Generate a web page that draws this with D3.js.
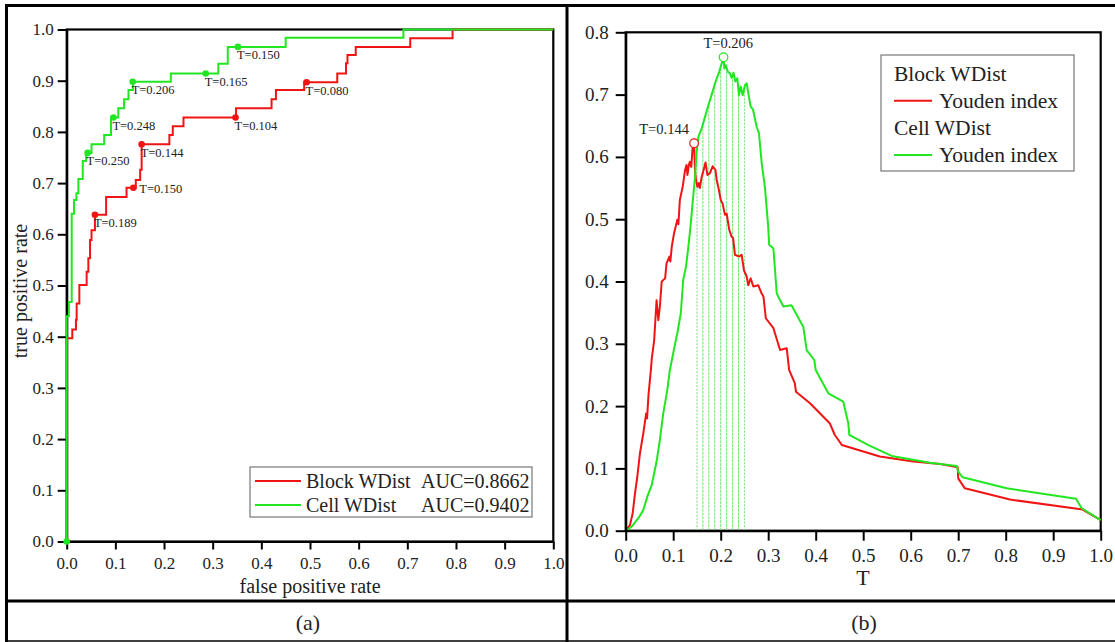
<!DOCTYPE html>
<html><head><meta charset="utf-8">
<script src="https://cdn.jsdelivr.net/npm/d3@7"></script>
<style>body{margin:0;background:#fff;}svg{display:block;font-family:"Liberation Serif","Times New Roman",serif;}</style>
</head><body>
<svg id="c" width="1115" height="642"></svg>
<script>
// ---------- data ----------
const ticks01 = [0,0.1,0.2,0.3,0.4,0.5,0.6,0.7,0.8,0.9,1.0];
const ticksYouden = [0,0.1,0.2,0.3,0.4,0.5,0.6,0.7,0.8];

// ROC (a): corners where each vertical jump ends
const rocBlockFpr = [0,0,0.0115,0.019,0.0205,0.026,0.041,0.0445,0.048,0.051,0.058,0.081,0.123,0.142,0.151,0.154,0.211,0.218,0.24,0.348,0.421,0.430,0.488,0.556,0.574,0.577,0.594,0.706,0.793,1.0];
const rocBlockTpr = [0,0.397,0.414,0.433,0.465,0.501,0.527,0.553,0.589,0.608,0.638,0.673,0.691,0.706,0.726,0.776,0.794,0.811,0.828,0.846,0.864,0.882,0.897,0.914,0.934,0.950,0.966,0.983,1.0,1.0];
const rocCellFpr = [0,0,0.0045,0.0103,0.0103,0.015,0.02,0.024,0.033,0.04,0.051,0.077,0.091,0.106,0.118,0.127,0.136,0.214,0.3116,0.331,0.45,0.692,1.0];
const rocCellTpr = [0,0.44,0.468,0.59,0.64,0.667,0.68,0.708,0.743,0.759,0.776,0.794,0.828,0.846,0.864,0.882,0.898,0.914,0.933,0.966,0.984,1.0,1.0];

const blockDotFpr = [0.058,0.137,0.154,0.347,0.493];
const blockDotTpr = [0.638,0.691,0.776,0.828,0.897];
const blockDotLabel = ["T=0.189","T=0.150","T=0.144","T=0.104","T=0.080"];
const cellDotFpr = [0,0.043,0.096,0.1356,0.2857,0.352];
const cellDotTpr = [0,0.759,0.828,0.898,0.914,0.966];
const cellDotLabel = ["","T=0.250","T=0.248","T=0.206","T=0.165","T=0.150"];

const legendA = ["Block WDist","Cell WDist"];
const aucA = ["AUC=0.8662","AUC=0.9402"];

// Youden index (b)
const youBlockT = [0,0.009,0.0147,0.0196,0.0245,0.030,0.037,0.043,0.045,0.048,0.053,0.055,0.060,0.063,0.065,0.0687,0.072,0.0758,0.083,0.086,0.092,0.094,0.097,0.1017,0.1087,0.111,0.114,0.12,0.125,0.128,0.13,0.133,0.135,0.138,0.141,0.144,0.146,0.148,0.151,0.154,0.156,0.16,0.163,0.168,0.172,0.1775,0.183,0.189,0.1915,0.196,0.2,0.204,0.209,0.2126,0.218,0.223,0.226,0.23,0.239,0.244,0.249,0.2547,0.258,0.263,0.2687,0.279,0.286,0.29,0.295,0.311,0.325,0.339,0.344,0.356,0.3585,0.388,0.43,0.44,0.455,0.535,0.6055,0.662,0.699,0.70,0.714,0.809,0.962,1.0];
const youBlockJ = [0,0.009,0.028,0.060,0.087,0.124,0.156,0.188,0.180,0.218,0.258,0.277,0.306,0.345,0.370,0.338,0.360,0.400,0.405,0.429,0.440,0.432,0.456,0.477,0.499,0.492,0.531,0.552,0.579,0.587,0.571,0.587,0.592,0.584,0.616,0.622,0.576,0.563,0.552,0.558,0.550,0.568,0.576,0.591,0.571,0.574,0.585,0.579,0.563,0.548,0.531,0.525,0.507,0.509,0.483,0.472,0.470,0.443,0.440,0.443,0.418,0.408,0.394,0.405,0.392,0.394,0.381,0.376,0.341,0.325,0.290,0.293,0.258,0.237,0.223,0.2045,0.172,0.154,0.1375,0.119,0.111,0.107,0.1017,0.084,0.068,0.050,0.034,0.017];
const youCellT = [0,0.0126,0.0266,0.037,0.0455,0.0547,0.065,0.072,0.079,0.0876,0.093,0.104,0.1087,0.116,0.121,0.127,0.132,0.137,0.142,0.146,0.149,0.153,0.156,0.16,0.165,0.174,0.181,0.188,0.197,0.202,0.206,0.2076,0.211,0.2147,0.2196,0.223,0.227,0.2307,0.235,0.2385,0.242,0.2463,0.251,0.2547,0.26,0.263,0.268,0.2758,0.2806,0.2863,0.293,0.30,0.302,0.311,0.318,0.321,0.332,0.349,0.374,0.381,0.397,0.40,0.4266,0.458,0.4687,0.4707,0.511,0.56,0.6406,0.697,0.70,0.7095,0.802,0.948,0.96,1.0];
const youCellJ = [0,0.0064,0.02,0.033,0.0546,0.073,0.111,0.146,0.188,0.226,0.258,0.30,0.317,0.349,0.402,0.424,0.456,0.493,0.536,0.568,0.606,0.632,0.638,0.646,0.659,0.683,0.70,0.718,0.737,0.750,0.760,0.742,0.747,0.737,0.734,0.727,0.735,0.721,0.726,0.699,0.713,0.699,0.715,0.718,0.694,0.681,0.676,0.648,0.638,0.590,0.552,0.488,0.459,0.453,0.381,0.376,0.36,0.362,0.327,0.29,0.274,0.258,0.2205,0.207,0.172,0.154,0.1375,0.12,0.109,0.104,0.0947,0.0857,0.068,0.0514,0.036,0.017];

const dropT = [0.15,0.1625,0.175,0.1875,0.2,0.2125,0.225,0.2375,0.25];
const dropJ = [0.616,0.655,0.685,0.718,0.748,0.744,0.730,0.706,0.715];

const peakT = [0.144,0.206];
const peakJ = [0.622,0.760];
const peakLabel = ["T=0.144","T=0.206"];
const legendB = ["Block WDist","Youden index","Cell WDist","Youden index"];

// ---------- drawing ----------
const RED = "#f01414", GREEN = "#22e622";
const svg = d3.select("#c");
const FONT = '"Liberation Serif","Times New Roman",serif';

// table borders
const border = svg.append("g").attr("stroke","#000");
border.append("line").attr("x1",5).attr("x2",1115).attr("y1",5.5).attr("y2",5.5).attr("stroke-width",3);
border.append("line").attr("x1",6.5).attr("x2",6.5).attr("y1",4).attr("y2",642).attr("stroke-width",3);
border.append("line").attr("x1",567).attr("x2",567).attr("y1",4).attr("y2",642).attr("stroke-width",3);
border.append("line").attr("x1",5).attr("x2",1115).attr("y1",601).attr("y2",601).attr("stroke-width",3);
border.append("line").attr("x1",5).attr("x2",1115).attr("y1",641).attr("y2",641).attr("stroke-width",1.5);

function styleAxis(g, fs){
  g.attr("font-family",FONT);
  g.select(".domain").attr("stroke","#000").attr("stroke-width",2.2);
  g.selectAll(".tick line").attr("stroke","#000").attr("stroke-width",2);
  g.selectAll(".tick text").attr("font-size",fs).attr("fill","#222");
}
const fmt = d3.format(".1f");

// ===== panel (a) =====
const xA = d3.scaleLinear().domain([0,1]).range([66.7,553.3]);
const yA = d3.scaleLinear().domain([0,1]).range([541.5,29.5]);
const pa = svg.append("g");
pa.append("rect").attr("x",xA(0)).attr("y",yA(1)).attr("width",xA(1)-xA(0)).attr("height",yA(0)-yA(1))
  .attr("fill","none").attr("stroke","#000").attr("stroke-width",2.2);
pa.append("g").attr("transform",`translate(0,${yA(0)})`)
  .call(d3.axisBottom(xA).tickValues(ticks01).tickFormat(fmt).tickSize(8).tickPadding(7).tickSizeOuter(0))
  .call(g=>styleAxis(g,17));
pa.append("g").attr("transform",`translate(${xA(0)},0)`)
  .call(d3.axisLeft(yA).tickValues(ticks01).tickFormat(fmt).tickSize(9).tickPadding(4).tickSizeOuter(0))
  .call(g=>styleAxis(g,17));
pa.append("text").attr("x",310).attr("y",586).attr("text-anchor","middle").attr("dominant-baseline","central")
  .attr("font-size",20).attr("fill","#222").text("false positive rate");
pa.append("text").attr("transform","translate(20,291) rotate(-90)").attr("text-anchor","middle").attr("dominant-baseline","central")
  .attr("font-size",20).attr("fill","#222").text("true positive rate");

const stepLine = d3.line().x(d=>xA(d[0])).y(d=>yA(d[1])).curve(d3.curveStepAfter);
pa.append("path").datum(d3.zip(rocBlockFpr,rocBlockTpr)).attr("d",stepLine).attr("fill","none").attr("stroke",RED).attr("stroke-width",2);
pa.append("path").datum(d3.zip(rocCellFpr,rocCellTpr)).attr("d",stepLine).attr("fill","none").attr("stroke",GREEN).attr("stroke-width",2);

function dots(fx, ty, labels, color){
  fx.forEach((f,i)=>{
    const cx = xA(f), cy = yA(ty[i]);
    pa.append("circle").attr("cx",cx).attr("cy",cy).attr("r",3.3).attr("fill",color);
    if(labels[i]){
      const side = (color===RED && labels[i]==="T=0.150");
      pa.append("text").attr("x", side ? cx+6 : cx-1).attr("y", side ? cy+1.5 : cy+8.5)
        .attr("dominant-baseline","central").attr("font-size",12.5).attr("fill","#222").text(labels[i]);
    }
  });
}
dots(blockDotFpr,blockDotTpr,blockDotLabel,RED);
dots(cellDotFpr,cellDotTpr,cellDotLabel,GREEN);

// legend (a)
const la = pa.append("g");
la.append("rect").attr("x",250).attr("y",467).attr("width",282).attr("height",50).attr("fill","#fff").attr("stroke","#777").attr("stroke-width",1.2);
[RED,GREEN].forEach((c,i)=>{
  const yy = 481 + i*24;
  la.append("line").attr("x1",255).attr("x2",301).attr("y1",yy).attr("y2",yy).attr("stroke",c).attr("stroke-width",2);
  la.append("text").attr("x",306).attr("y",yy).attr("dominant-baseline","central").attr("font-size",20).attr("fill","#222").text(legendA[i]);
  la.append("text").attr("x",421).attr("y",yy).attr("dominant-baseline","central").attr("font-size",20).attr("fill","#222").text(aucA[i]);
});
pa.append("text").attr("x",308).attr("y",622).attr("text-anchor","middle").attr("dominant-baseline","central").attr("font-size",22).attr("fill","#222").text("(a)");

// ===== panel (b) =====
const xB = d3.scaleLinear().domain([0,1]).range([625.7,1100.7]);
const yB = d3.scaleLinear().domain([0,0.8]).range([530.7,32.3]);
const pb = svg.append("g");
pb.append("rect").attr("x",xB(0)).attr("y",yB(0.8)).attr("width",xB(1)-xB(0)).attr("height",yB(0)-yB(0.8))
  .attr("fill","none").attr("stroke","#000").attr("stroke-width",2.2);

// drop lines
dropT.forEach((t,i)=>{
  const edge = (i===0 || i===dropT.length-1);
  pb.append("line").attr("x1",xB(t)).attr("x2",xB(t)).attr("y1",yB(0)).attr("y2",yB(dropJ[i]))
    .attr("stroke","#6fe66f").attr("stroke-width",1).attr("stroke-dasharray",edge?"2,1.5":"3,0.8");
});

const yl = d3.line().x(d=>xB(d[0])).y(d=>yB(d[1]));
pb.append("path").datum(d3.zip(youBlockT,youBlockJ)).attr("d",yl).attr("fill","none").attr("stroke",RED).attr("stroke-width",2).attr("stroke-linejoin","round");
pb.append("path").datum(d3.zip(youCellT,youCellJ)).attr("d",yl).attr("fill","none").attr("stroke",GREEN).attr("stroke-width",2).attr("stroke-linejoin","round");

pb.append("g").attr("transform",`translate(0,${yB(0)})`)
  .call(d3.axisBottom(xB).tickValues(ticks01).tickFormat(fmt).tickSize(10).tickPadding(8).tickSizeOuter(0))
  .call(g=>styleAxis(g,19));
pb.append("g").attr("transform",`translate(${xB(0)},0)`)
  .call(d3.axisLeft(yB).tickValues(ticksYouden).tickFormat(fmt).tickSize(10).tickPadding(7).tickSizeOuter(0))
  .call(g=>styleAxis(g,19));
pb.append("text").attr("x",863).attr("y",577).attr("text-anchor","middle").attr("dominant-baseline","central").attr("font-size",22).attr("fill","#222").text("T");

// peaks
[RED,GREEN].forEach((c,i)=>{
  const cx = xB(peakT[i]), cy = yB(peakJ[i]);
  pb.append("circle").attr("cx",cx).attr("cy",cy).attr("r",4.3).attr("fill","#fff").attr("stroke",c).attr("stroke-width",1.2);
  pb.append("text").attr("x", i===0 ? cx-30 : cx+4.7).attr("y",cy-14.5).attr("text-anchor","middle").attr("dominant-baseline","central")
    .attr("font-size",14.5).attr("fill","#222").text(peakLabel[i]);
});

// legend (b)
const lb = pb.append("g");
lb.append("rect").attr("x",881).attr("y",55).attr("width",193).attr("height",116).attr("fill","#fff").attr("stroke","#777").attr("stroke-width",1.2);
legendB.forEach((t,i)=>{
  const yy = 73.5 + i*27.2;
  if(i%2===1){
    lb.append("line").attr("x1",894).attr("x2",932).attr("y1",yy).attr("y2",yy).attr("stroke",i===1?RED:GREEN).attr("stroke-width",2);
    lb.append("text").attr("x",939).attr("y",yy).attr("dominant-baseline","central").attr("font-size",21.5).attr("fill","#222").text(t);
  } else {
    lb.append("text").attr("x",894).attr("y",yy).attr("dominant-baseline","central").attr("font-size",21.5).attr("fill","#222").text(t);
  }
});
pb.append("text").attr("x",864).attr("y",622).attr("text-anchor","middle").attr("dominant-baseline","central").attr("font-size",22).attr("fill","#222").text("(b)");
</script>
</body></html>
